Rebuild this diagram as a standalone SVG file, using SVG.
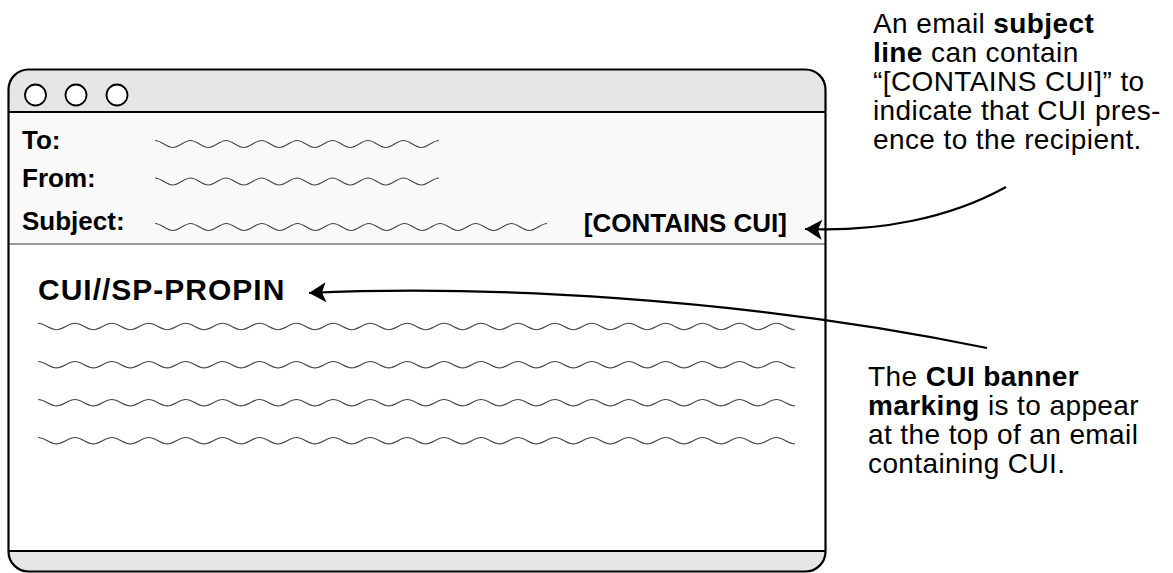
<svg xmlns="http://www.w3.org/2000/svg" xmlns:xlink="http://www.w3.org/1999/xlink" width="1173" height="573" viewBox="0 0 1173 573">
<style>
.lbl{font-family:"Liberation Sans",Arial,Helvetica,sans-serif;font-weight:bold;font-size:26px;fill:#000}
.ban{font-family:"Liberation Sans",Arial,Helvetica,sans-serif;font-weight:bold;font-size:30px;letter-spacing:1px;fill:#000}
.ann{font-family:"Liberation Sans",Arial,Helvetica,sans-serif;font-size:28px;letter-spacing:0.4px;fill:#000}
.b{font-weight:bold}
.wave{fill:none;stroke:#444;stroke-width:1.1}
.conn{fill:none;stroke:#000;stroke-width:2.2}
</style>
<defs>
<clipPath id="winclip"><path d="M8.5,89.5 a20,20 0 0 1 20,-20 H805.5 a20,20 0 0 1 20,20 V551.5 a20,20 0 0 1 -20,20 H28.5 a20,20 0 0 1 -20,-20 Z"/></clipPath>
<path id="bodywave" class="wave" d="M0,-3.2 c6.65,0 11.81,6.4 18.46,6.4 s11.81,-6.4 18.46,-6.4 s11.81,6.4 18.46,6.4 s11.81,-6.4 18.46,-6.4 s11.81,6.4 18.46,6.4 s11.81,-6.4 18.46,-6.4 s11.81,6.4 18.46,6.4 s11.81,-6.4 18.46,-6.4 s11.81,6.4 18.46,6.4 s11.81,-6.4 18.46,-6.4 s11.81,6.4 18.46,6.4 s11.81,-6.4 18.46,-6.4 s11.81,6.4 18.46,6.4 s11.81,-6.4 18.46,-6.4 s11.81,6.4 18.46,6.4 s11.81,-6.4 18.46,-6.4 s11.81,6.4 18.46,6.4 s11.81,-6.4 18.46,-6.4 s11.81,6.4 18.46,6.4 s11.81,-6.4 18.46,-6.4 s11.81,6.4 18.46,6.4 s11.81,-6.4 18.46,-6.4 s11.81,6.4 18.46,6.4 s11.81,-6.4 18.46,-6.4 s11.81,6.4 18.46,6.4 s11.81,-6.4 18.46,-6.4 s11.81,6.4 18.46,6.4 s11.81,-6.4 18.46,-6.4 s11.81,6.4 18.46,6.4 s11.81,-6.4 18.46,-6.4 s11.81,6.4 18.46,6.4 s11.81,-6.4 18.46,-6.4 s11.81,6.4 18.46,6.4 s11.81,-6.4 18.46,-6.4 s11.81,6.4 18.46,6.4 s11.81,-6.4 18.46,-6.4 s11.81,6.4 18.46,6.4 s11.81,-6.4 18.46,-6.4 s11.81,6.4 18.46,6.4 s11.81,-6.4 18.46,-6.4 s11.81,6.4 18.46,6.4"/>
<path id="hdrwave" class="wave" d="M0,-3.5 c6.39,0 11.36,7 17.75,7 s11.36,-7 17.75,-7 s11.36,7 17.75,7 s11.36,-7 17.75,-7 s11.36,7 17.75,7 s11.36,-7 17.75,-7 s11.36,7 17.75,7 s11.36,-7 17.75,-7 s11.36,7 17.75,7 s11.36,-7 17.75,-7 s11.36,7 17.75,7 s11.36,-7 17.75,-7 s11.36,7 17.75,7 s11.36,-7 17.75,-7 s11.36,7 17.75,7 s11.36,-7 17.75,-7"/>
<path id="subwave" class="wave" d="M0,-3.5 c6.42,0 11.4,7 17.82,7 s11.4,-7 17.82,-7 s11.4,7 17.82,7 s11.4,-7 17.82,-7 s11.4,7 17.82,7 s11.4,-7 17.82,-7 s11.4,7 17.82,7 s11.4,-7 17.82,-7 s11.4,7 17.82,7 s11.4,-7 17.82,-7 s11.4,7 17.82,7 s11.4,-7 17.82,-7 s11.4,7 17.82,7 s11.4,-7 17.82,-7 s11.4,7 17.82,7 s11.4,-7 17.82,-7 s11.4,7 17.82,7 s11.4,-7 17.82,-7 s11.4,7 17.82,7 s11.4,-7 17.82,-7 s11.4,7 17.82,7 s11.4,-7 17.82,-7"/>
<marker id="arrow" markerUnits="userSpaceOnUse" viewBox="-20 -12 22 24" markerWidth="22" markerHeight="24" refX="0" refY="0" orient="auto">
<path d="M0,0 L-17,-10 L-13,0 L-17,10 Z" fill="#000"/>
</marker>
</defs>

<g id="window">
<g clip-path="url(#winclip)">
<rect x="0" y="60" width="840" height="52" fill="#e6e6e6"/>
<rect x="0" y="112" width="840" height="132" fill="#f9f9f9"/>
<rect x="0" y="244" width="840" height="307" fill="#ffffff"/>
<rect x="0" y="551" width="840" height="30" fill="#e6e6e6"/>
</g>
<line x1="8.5" y1="112" x2="825.5" y2="112" stroke="#000" stroke-width="2"/>
<line x1="8.5" y1="244" x2="825.5" y2="244" stroke="#777" stroke-width="1.6"/>
<line x1="8.5" y1="551" x2="825.5" y2="551" stroke="#000" stroke-width="2"/>
<path d="M8.5,89.5 a20,20 0 0 1 20,-20 H805.5 a20,20 0 0 1 20,20 V551.5 a20,20 0 0 1 -20,20 H28.5 a20,20 0 0 1 -20,-20 Z" fill="none" stroke="#000" stroke-width="2.2"/>
<circle cx="35.5" cy="95" r="10.5" fill="#fff" stroke="#000" stroke-width="1.8"/>
<circle cx="76" cy="95" r="10.5" fill="#fff" stroke="#000" stroke-width="1.8"/>
<circle cx="117" cy="95" r="10.5" fill="#fff" stroke="#000" stroke-width="1.8"/>
</g>

<g id="header">
<text class="lbl" x="22" y="149">To:</text>
<text class="lbl" x="22" y="187">From:</text>
<text class="lbl" x="22" y="230">Subject:</text>
<use xlink:href="#hdrwave" x="155" y="144"/>
<use xlink:href="#hdrwave" x="155" y="181.5"/>
<use xlink:href="#subwave" x="155" y="227"/>
<text id="subject-marking" class="lbl" x="787" y="232" text-anchor="end">[CONTAINS CUI]</text>
</g>

<g id="body">
<text id="banner-marking" class="ban" x="38" y="300">CUI//SP-PROPIN</text>
<use xlink:href="#bodywave" x="38" y="326.5"/>
<use xlink:href="#bodywave" x="38" y="364.7"/>
<use xlink:href="#bodywave" x="38" y="402.7"/>
<use xlink:href="#bodywave" x="38" y="440.7"/>
</g>

<g id="note-subject">
<text class="ann" x="873">
<tspan x="873" y="33">An email <tspan class="b">subject</tspan></tspan>
<tspan x="873" y="62"><tspan class="b">line</tspan> can contain</tspan>
<tspan x="873" y="91">“[CONTAINS CUI]” to</tspan>
<tspan x="873" y="120">indicate that CUI pres-</tspan>
<tspan x="873" y="149">ence to the recipient.</tspan>
</text>
</g>

<g id="note-banner">
<text class="ann" x="868">
<tspan x="868" y="386">The <tspan class="b">CUI banner</tspan></tspan>
<tspan x="868" y="415"><tspan class="b">marking</tspan> is to appear</tspan>
<tspan x="868" y="444">at the top of an email</tspan>
<tspan x="868" y="473">containing CUI.</tspan>
</text>
</g>

<g id="connectors">
<path class="conn" d="M1006,187 C950,218 880,232 805,229" marker-end="url(#arrow)"/>
<path class="conn" d="M987,348 C740,297 480,285 309,293" marker-end="url(#arrow)"/>
</g>
</svg>
